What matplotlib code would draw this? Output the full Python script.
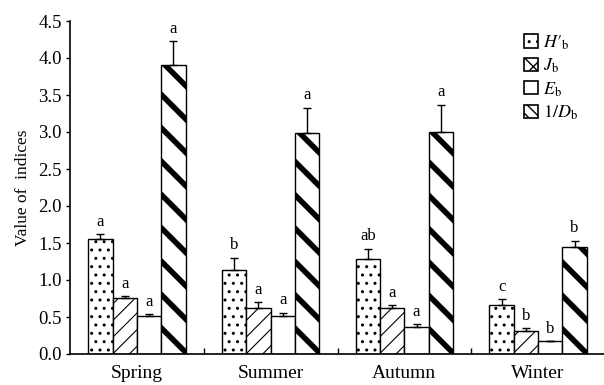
import numpy as np
import matplotlib
matplotlib.use('Agg')
import matplotlib.pyplot as plt
from matplotlib.patches import Patch

plt.rcParams['font.family'] = ['Liberation Serif', 'DejaVu Serif']
plt.rcParams['mathtext.fontset'] = 'stix'

# data
seasons = ['Spring', 'Summer', 'Autumn', 'Winter']
series_names = [r"$H\prime_{\rm b}$", r"$J_{\rm b}$", r"$E_{\rm b}$", r"$1/D_{\rm b}$"]
h_vals = [1.55, 1.13, 1.29, 0.66]
h_err = [0.07, 0.17, 0.13, 0.08]
j_vals = [0.76, 0.62, 0.62, 0.31]
j_err = [0.02, 0.08, 0.04, 0.04]
e_vals = [0.51, 0.51, 0.37, 0.17]
e_err = [0.03, 0.05, 0.03, 0.0]
d_vals = [3.90, 2.98, 3.00, 1.45]
d_err = [0.33, 0.35, 0.37, 0.08]
h_letters = ['a', 'b', 'ab', 'c']
j_letters = ['a', 'a', 'a', 'b']
e_letters = ['a', 'a', 'a', 'b']
d_letters = ['a', 'a', 'a', 'b']

vals = [h_vals, j_vals, e_vals, d_vals]
errs = [h_err, j_err, e_err, d_err]
letters = [h_letters, j_letters, e_letters, d_letters]
hatches = ['..', '//', '', '\\']
hatch_lw = [1.0, 0.8, 1.0, 4.0]
# legend boxes are small, so denser patterns there
leg_hatches = ['..', 'xx', '', '\\\\\\']
leg_hatch_lw = [1.5, 1.0, 1.0, 3.0]

fig = plt.figure(figsize=(6.04, 3.85), dpi=100)
ax = fig.add_axes([70 / 604, 1 - 354 / 385, 535 / 604, 333 / 385])

x = np.arange(len(seasons))
w = 0.182
for i in range(4):
    pos = x + (i - 1.5) * w
    bars = ax.bar(pos, vals[i], w, color='white', edgecolor='black',
                  linewidth=1.0, hatch=hatches[i], zorder=2)
    for b in bars:
        b.set_hatch_linewidth(hatch_lw[i])
    ax.errorbar(pos, vals[i], yerr=[np.zeros(4), errs[i]], fmt='none',
                ecolor='black', elinewidth=1.0, capsize=3, capthick=1.0, zorder=3)
    for p, v, e, t in zip(pos, vals[i], errs[i], letters[i]):
        ax.text(p, v + e + 0.06, t, ha='center', va='bottom', fontsize=12)

ax.set_xlim(-0.5, 3.5)
ax.set_ylim(0, 4.5)
ax.set_yticks(np.arange(0, 4.51, 0.5))
ax.set_yticklabels([f'{t:.1f}' for t in np.arange(0, 4.51, 0.5)], fontsize=13.5)
ax.set_xticks(x)
ax.set_xticklabels(seasons, fontsize=14)
ax.tick_params(axis='x', length=0, pad=8)
ax.set_xticks([0.5, 1.5, 2.5, 3.5], minor=True)
ax.tick_params(axis='x', which='minor', direction='in', length=4, width=1)
ax.tick_params(axis='y', direction='out', length=3, width=1, pad=3)
ax.spines['top'].set_visible(False)
ax.spines['right'].set_visible(False)
ax.spines['left'].set_linewidth(1.2)
ax.spines['bottom'].set_linewidth(1.2)
ax.set_ylabel('Value of  indices', fontsize=12.5, labelpad=5)

handles = []
for i in range(4):
    p = Patch(facecolor='white', edgecolor='black', linewidth=1.2,
              hatch=leg_hatches[i], label=series_names[i])
    p.set_hatch_linewidth(leg_hatch_lw[i])
    handles.append(p)
leg = ax.legend(handles=handles, loc='upper left', bbox_to_anchor=(447 / 535, 0.985),
                frameon=False, fontsize=13, handlelength=0.75, handleheight=0.75,
                handletextpad=0.3, labelspacing=0.28, borderaxespad=0.0)

fig.savefig('out.png', dpi=100)
